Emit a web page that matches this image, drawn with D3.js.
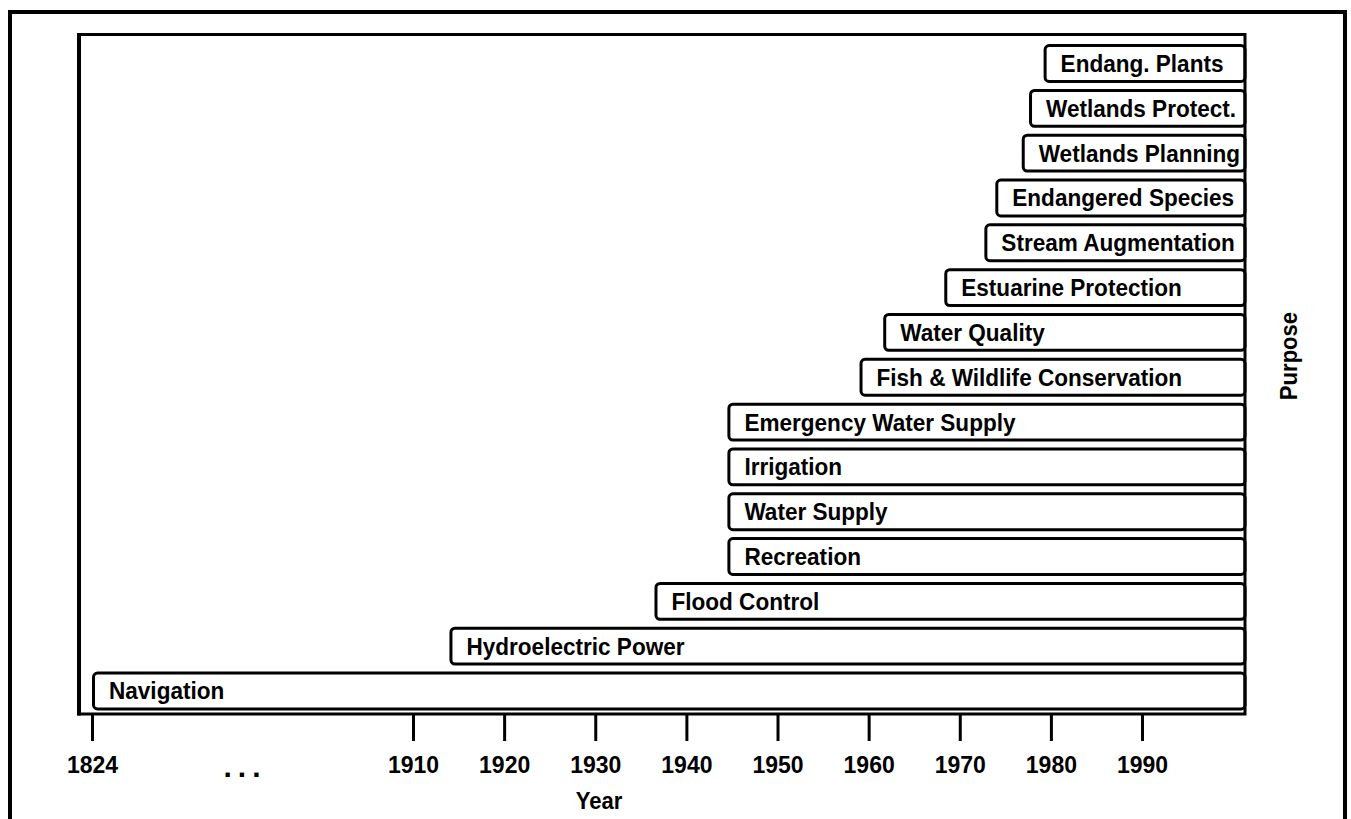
<!DOCTYPE html>
<html>
<head>
<meta charset="utf-8">
<script src="https://cdn.jsdelivr.net/npm/d3@7"></script>
<style>
  html, body { margin: 0; padding: 0; background: #fff; }
  svg { display: block; }
  text { font-family: "Liberation Sans", Arial, Helvetica, sans-serif; font-weight: bold; fill: #000; }
</style>
</head>
<body>
<div id="chart"></div>
<script>
// purposes, bottom to top, and the year each one starts
const purposes = [
  "Navigation", "Hydroelectric Power", "Flood Control", "Recreation",
  "Water Supply", "Irrigation", "Emergency Water Supply",
  "Fish & Wildlife Conservation", "Water Quality", "Estuarine Protection",
  "Stream Augmentation", "Endangered Species", "Wetlands Planning",
  "Wetlands Protect.", "Endang. Plants"
];
const startYears = [1824, 1914, 1936.5, 1944.5, 1944.5, 1944.5, 1944.5,
  1959, 1961.6, 1968.3, 1972.7, 1973.9, 1976.8, 1977.6, 1979.2];
const tickYears = [1824, 1910, 1920, 1930, 1940, 1950, 1960, 1970, 1980, 1990];

const W = 1351, H = 819;
const plotL = 79, plotT = 34.5, plotR = 1245, plotB = 714;

const svg = d3.select("#chart").append("svg")
  .attr("width", W)
  .attr("height", H);

// outer border (bottom edge runs off the page)
svg.append("rect")
  .attr("x", 10).attr("y", 12)
  .attr("width", 1335).attr("height", 840)
  .attr("fill", "none").attr("stroke", "#000").attr("stroke-width", 4);

// broken time axis: 1824, then 1910 onwards
const x = d3.scaleLinear()
  .domain([1824, 1910, 2001.3])
  .range([92, 413, plotR]);

const y = d3.scaleBand()
  .domain(purposes)
  .range([plotB - 0.6, plotT + 6.6])
  .paddingInner(0.2)
  .paddingOuter(0.1);

const rows = purposes.map((p, i) => ({ name: p, start: startYears[i] }));

const bars = svg.append("g").selectAll("g")
  .data(rows)
  .enter().append("g");

bars.append("rect")
  .attr("x", d => x(d.start) + 1.5)
  .attr("y", d => y(d.name))
  .attr("width", d => plotR - x(d.start) - 1.5)
  .attr("height", y.bandwidth())
  .attr("rx", 4).attr("ry", 4)
  .attr("fill", "#fff")
  .attr("stroke", "#000")
  .attr("stroke-width", 3);

// labels are a slightly condensed bold sans
bars.append("text")
  .attr("transform", d => `translate(${x(d.start) + 17},${y(d.name) + y.bandwidth() / 2 + 8.5}) scale(0.94,1)`)
  .style("font-size", "24px")
  .text(d => d.name);

// plot frame
svg.append("rect")
  .attr("x", plotL).attr("y", plotT)
  .attr("width", plotR - plotL).attr("height", plotB - plotT)
  .attr("fill", "none").attr("stroke", "#000").attr("stroke-width", 3);
svg.append("line")
  .attr("x1", plotL).attr("x2", plotL)
  .attr("y1", plotT - 1.5).attr("y2", plotB + 1.5)
  .attr("stroke", "#000").attr("stroke-width", 4);

// x axis
const axis = svg.append("g")
  .attr("transform", `translate(0,${plotB})`)
  .call(d3.axisBottom(x)
    .tickValues(tickYears)
    .tickSize(27)
    .tickSizeOuter(0)
    .tickPadding(16)
    .tickFormat(d3.format("d")));
axis.select(".domain").remove();
axis.selectAll(".tick line").attr("stroke", "#000").attr("stroke-width", 3);
axis.selectAll(".tick text")
  .attr("fill", "#000")
  .style("font-size", "23px")
  .style("font-family", "\"Liberation Sans\", Arial, sans-serif")
  .style("font-weight", "bold");

// break marker between 1824 and 1910
svg.append("text")
  .attr("x", 245).attr("y", 777)
  .attr("text-anchor", "middle")
  .style("font-size", "30px")
  .style("letter-spacing", "6px")
  .text("...");

svg.append("text")
  .attr("transform", "translate(599,809) scale(0.92,1)")
  .attr("text-anchor", "middle")
  .style("font-size", "24px")
  .text("Year");

svg.append("text")
  .attr("transform", "translate(1297,356) rotate(-90) scale(0.92,1)")
  .attr("text-anchor", "middle")
  .style("font-size", "24px")
  .text("Purpose");
</script>
</body>
</html>
